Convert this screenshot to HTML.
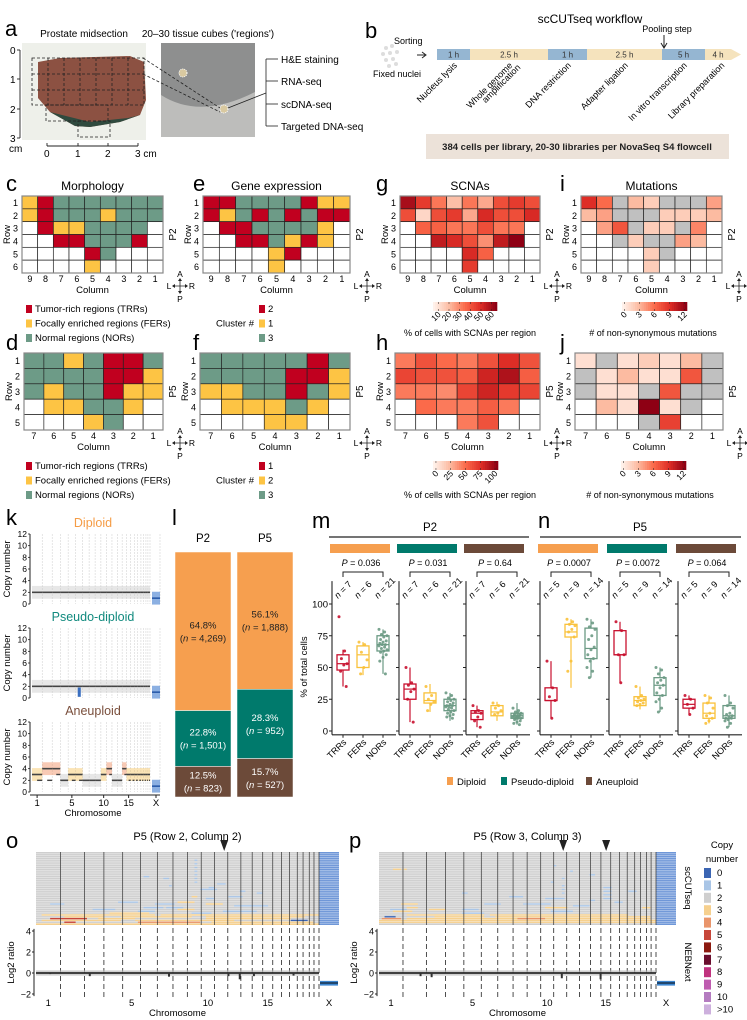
<!DOCTYPE html>
<html><head><meta charset="utf-8">
<style>
html,body{margin:0;padding:0;background:#fff;}
svg{display:block;font-family:"Liberation Sans",Arial,sans-serif;}
</style></head>
<body>
<svg id="fig" width="747" height="1020" viewBox="0 0 747 1020" xmlns="http://www.w3.org/2000/svg">
<!-- Panel a -->
<g>
<text x="5" y="36" font-size="22">a</text>
<text x="84" y="37" font-size="10" text-anchor="middle">Prostate midsection</text>
<text x="208" y="37" font-size="10" text-anchor="middle">20–30 tissue cubes ('regions')</text>
<rect x="22" y="43" width="124" height="97" fill="#eef0ea"/>
<path d="M38,62 L60,58 L130,56 L144,62 L146,100 L140,115 L120,122 L90,127 L75,126 L50,112 L38,98 Z" fill="#8c5142"/>
<path d="M50,112 L75,126 L90,127 L120,122 L140,115 L128,118 L90,122 Z" fill="#2f4a3e"/>
<g stroke="#222" stroke-dasharray="3,2" fill="none" stroke-width="0.8">
<rect x="32" y="58" width="112" height="47"/><line x1="32" y1="74" x2="144" y2="74"/><line x1="32" y1="90" x2="144" y2="90"/>
<line x1="48" y1="58" x2="48" y2="105"/><line x1="64" y1="58" x2="64" y2="105"/><line x1="80" y1="58" x2="80" y2="105"/><line x1="96" y1="58" x2="96" y2="105"/><line x1="112" y1="58" x2="112" y2="105"/><line x1="128" y1="58" x2="128" y2="105"/>
<rect x="46" y="105" width="62" height="16"/><rect x="78" y="121" width="32" height="16"/>
</g>
<g stroke="#222" stroke-width="0.9">
<line x1="20" y1="50" x2="20" y2="138"/><line x1="17" y1="50" x2="20" y2="50"/><line x1="17" y1="79" x2="20" y2="79"/><line x1="17" y1="109" x2="20" y2="109"/><line x1="17" y1="138" x2="20" y2="138"/>
<line x1="47" y1="146" x2="138" y2="146"/><line x1="47" y1="146" x2="47" y2="143"/><line x1="78" y1="146" x2="78" y2="143"/><line x1="108" y1="146" x2="108" y2="143"/><line x1="138" y1="146" x2="138" y2="143"/>
</g>
<g font-size="10">
<text x="10" y="54">0</text><text x="10" y="83">1</text><text x="10" y="113">2</text><text x="10" y="142">3</text><text x="9" y="152">cm</text>
<text x="44" y="157">0</text><text x="75" y="157">1</text><text x="105" y="157">2</text><text x="135" y="157">3 cm</text>
</g>
<rect x="161" y="43" width="94" height="94" fill="#8e8f8f"/>
<path d="M161,95 Q200,120 255,92 L255,137 L161,137 Z" fill="#bdbdbb"/>
<circle cx="183" cy="73" r="4" fill="#d9c9a0" stroke="#fff" stroke-dasharray="1,1"/>
<circle cx="224" cy="109" r="4" fill="#d9c9a0" stroke="#fff" stroke-dasharray="1,1"/>
<g stroke="#222" stroke-width="0.8" fill="none">
<line x1="143" y1="58" x2="220" y2="108" stroke-dasharray="3,2"/><line x1="143" y1="74" x2="220" y2="112" stroke-dasharray="3,2"/>
<line x1="228" y1="108" x2="266" y2="93"/>
<line x1="266" y1="59" x2="266" y2="126"/>
<line x1="266" y1="59" x2="278" y2="59"/><line x1="266" y1="81" x2="278" y2="81"/><line x1="266" y1="104" x2="278" y2="104"/><line x1="266" y1="126" x2="278" y2="126"/>
</g>
<g font-size="10">
<text x="281" y="63">H&amp;E staining</text><text x="281" y="85">RNA-seq</text><text x="281" y="108">scDNA-seq</text><text x="281" y="130">Targeted DNA-seq</text>
</g>
</g>
<!-- Panel b -->
<g>
<text x="365" y="38" font-size="22">b</text>
<text x="590" y="23" font-size="12" text-anchor="middle">scCUTseq workflow</text>
<text x="394" y="44" font-size="9">Sorting</text>
<text x="397" y="77" font-size="9" text-anchor="middle">Fixed nuclei</text>
<g fill="#ddd">
<circle cx="386" cy="48" r="2"/><circle cx="392" cy="46" r="2"/><circle cx="383" cy="54" r="2"/><circle cx="390" cy="53" r="2"/><circle cx="397" cy="52" r="2"/><circle cx="386" cy="60" r="2"/><circle cx="393" cy="59" r="2"/><circle cx="389" cy="66" r="2"/><circle cx="396" cy="64" r="2"/>
</g>
<path d="M417,55 L425,55 M422,52 L426,55 L422,58" stroke="#222" fill="none"/>
<text x="667" y="32" font-size="9" text-anchor="middle">Pooling step</text>
<path d="M664,35 L664,47 M661,43 L664,48 L667,43" stroke="#222" fill="none"/>
<g id="wf"></g>
<rect x="426" y="134" width="303" height="25" fill="#ece2d9"/>
<text x="577" y="150" font-size="9.5" font-weight="bold" text-anchor="middle" fill="#222">384 cells per library, 20-30 libraries per NovaSeq S4 flowcell</text>
</g>
<g id="root"></g>
</svg>
<script>
const NS='http://www.w3.org/2000/svg';
const root=document.getElementById('root');
function mk(tag,a,p){const e=document.createElementNS(NS,tag);for(const k in a)e.setAttribute(k,a[k]);(p||root).appendChild(e);return e;}
function tx(s,x,y,a,p){const e=mk('text',Object.assign({x:x,y:y},a||{}),p);e.textContent=s;return e;}

/* ---------- workflow ---------- */
const wfDur=['1 h','2.5 h','1 h','2.5 h','5 h','4 h'];
const wfX=[437,470,548,587,662,705,737];
const wfSteps=[['Nucleus lysis'],['Whole genome','amplification'],['DNA restriction'],['Adapter ligation'],['In vitro transcription'],['Library preparation']];
const wf=document.getElementById('wf');
wfDur.forEach((d,i)=>{
  const x0=wfX[i],x1=wfX[i+1],col=i%2?'#f5e3bd':'#95b6d2';
  let s;
  if(i===5){s=mk('path',{d:`M${x0},49 L${x1-6},49 L${x1+4},54.5 L${x1-6},60 L${x0},60 Z`,fill:col},wf);}
  else{s=mk('rect',{x:x0,y:49,width:x1-x0,height:11,fill:col},wf);}
  
  
  tx(d,(x0+x1)/2-(i===5?3:0),57.5,{'font-size':8,'text-anchor':'middle',fill:'#333'},wf);
  const cx=(x0+x1)/2+4;
  wfSteps[i].forEach((ln,j)=>{
    const t=tx(ln,cx+j*8,66+j*2,{'font-size':9,'text-anchor':'end',transform:`rotate(-45 ${cx+j*8} ${66+j*2})`},wf);
    
    
  });
});

/* ---------- spatial grids data ---------- */
const morphP2=["YRGGGGGGG","YRGGGYGGG","WRYYGGGGW","WWRRGGGRW","WWWWRGWWW","WWWWYWWWW"];
const exprP2=["RRGGGGRYY","RYGRGRGRR","WRRGGGGYW","WWRRGYRYW","WWWWYRWWW","WWWWYWWWW"];
const morphP5=["GGYGRRG","GGGGRRY","GYGGRYY","WYYGGYW","WWWYGWW"];
const exprP5=["GGGGGRG","GGGGRRY","YYGGRGY","WYYYGYW","WWWYYWW"];
const scnaP2=[[60,45,30,15,30,20,40,45,40],[40,8,40,45,20,50,40,40,50],[null,35,35,30,30,40,30,30,null],[null,null,55,50,40,25,55,65,null],[null,null,null,null,50,35,null,null,null],[null,null,null,null,45,null,null,null,null]];
const mutP2=[[9,6,-1,3,2,-1,-1,-1,4],[3,4,-1,-1,-1,2,2,2,3],[null,4,7,-1,2,2,-1,5,null],[null,null,-1,2,-1,-1,4,3,null],[null,null,null,null,2,-1,null,null,null],[null,null,null,null,2,null,null,null,null]];
const scnaP5=[[45,60,50,45,60,75,60],[65,60,60,55,80,90,55],[45,45,40,65,80,70,65],[null,50,45,45,55,45,null],[null,null,null,45,60,null,null]];
const mutP5=[[1,-1,1,2,1,3,-1],[-1,1,3,1,1,7,-1],[-1,1,1,-1,7,-1,-1],[null,3,1,12,1,-1,null],[null,null,null,-1,8,null,null]];
const catCol={R:'#c1001f',Y:'#fdc444',G:'#6d9b87',W:'#ffffff'};
const rampStops=['#fff1ea','#fcbba1','#fb6a4a','#de2d26','#8e0014'];
function ramp(t){t=Math.max(0,Math.min(1,t));const n=rampStops.length-1,i=Math.min(n-1,Math.floor(t*n)),f=t*n-i;
 const a=rampStops[i],b=rampStops[i+1];const c=k=>Math.round(parseInt(a.substr(k,2),16)*(1-f)+parseInt(b.substr(k,2),16)*f);
 return `rgb(${c(1)},${c(3)},${c(5)})`;}

function gridFrame(g,x0,y0,w,h,nr,nc,title,pat){
  const cw=w/nc,ch=h/nr;
  for(let r=0;r<nr;r++)tx(String(r+1),x0-4,y0+ch*(r+0.5)+3.5,{'font-size':9,'text-anchor':'end'},g);
  for(let c=0;c<nc;c++)tx(String(nc-c),x0+cw*(c+0.5),y0+h+9,{'font-size':9,'text-anchor':'middle'},g);
  tx('Column',x0+w/2,y0+h+20,{'font-size':9.5,'text-anchor':'middle'},g);
  tx('Row',x0-12,y0+h/2,{'font-size':9.5,'text-anchor':'middle',transform:`rotate(-90 ${x0-12} ${y0+h/2})`},g);
  tx(pat,x0+w+13,y0+h/2,{'font-size':10,'text-anchor':'middle',transform:`rotate(-90 ${x0+w+13} ${y0+h/2})`},g);
  mk('rect',{x:x0,y:y0,width:w,height:h,fill:'none',stroke:'#888','stroke-width':1.2},g);
  if(title)tx(title,x0+w/2,y0-6,{'font-size':12,'text-anchor':'middle'},g);
}
function compass(g,cx,cy){
  mk('path',{d:`M${cx-7},${cy} L${cx+7},${cy} M${cx},${cy-7} L${cx},${cy+7}`,stroke:'#222','stroke-width':0.8},g);
  mk('path',{d:`M${cx-8},${cy} l3,-2 l0,4z M${cx+8},${cy} l-3,-2 l0,4z M${cx},${cy-8} l-2,3 l4,0z M${cx},${cy+8} l-2,-3 l4,0z`,fill:'#222'},g);
  tx('A',cx,cy-9,{'font-size':8.5,'text-anchor':'middle'},g);
  tx('P',cx,cy+16,{'font-size':8.5,'text-anchor':'middle'},g);
  tx('L',cx-11,cy+3,{'font-size':8.5,'text-anchor':'middle'},g);
  tx('R',cx+12,cy+3,{'font-size':8.5,'text-anchor':'middle'},g);
}
function catGrid(name,rows,x0,y0,w,h,title,pat){
  const g=mk('g',{});
  
  
  const nr=rows.length,nc=rows[0].length,cw=w/nc,ch=h/nr;
  rows.forEach((row,r)=>row.split('').forEach((v,c)=>{
    const cell=mk('rect',{x:x0+c*cw,y:y0+r*ch,width:cw,height:ch,fill:catCol[v],stroke:'#222','stroke-width':0.7},g);
    
    
  }));
  gridFrame(g,x0,y0,w,h,nr,nc,title,pat);
  compass(g,x0+w+17,y0+h+13);
  return g;
}
function contGrid(name,rows,vmax,x0,y0,w,h,title,pat){
  const g=mk('g',{});
  
  
  const nr=rows.length,nc=rows[0].length,cw=w/nc,ch=h/nr;
  rows.forEach((row,r)=>row.forEach((v,c)=>{
    const f=v===null?'#fff':(v<0?'#c0c0c0':ramp(v/vmax));
    const cell=mk('rect',{x:x0+c*cw,y:y0+r*ch,width:cw,height:ch,fill:f,stroke:'#222','stroke-width':0.7},g);
    
    
  }));
  gridFrame(g,x0,y0,w,h,nr,nc,title,pat);
  compass(g,x0+w+17,y0+h+13);
  return g;
}
function colorbar(name,x0,y0,w,ticks,tmin,tmax,caption,capX,capY){
  const g=mk('g',{});
  
  
  const n=30;for(let i=0;i<n;i++)mk('rect',{x:x0+w*i/n,y:y0,width:w/n+0.3,height:9,fill:ramp(i/(n-1))},g);
  ticks.forEach(t=>{const x=x0+w*(t-tmin)/(tmax-tmin);
    mk('line',{x1:x,y1:y0,x2:x,y2:y0+2,stroke:'#222','stroke-width':0.5},g);
    mk('line',{x1:x,y1:y0+7,x2:x,y2:y0+9,stroke:'#222','stroke-width':0.5},g);
    tx(String(t),x+3,y0+13,{'font-size':8.5,'text-anchor':'end',transform:`rotate(-45 ${x+3} ${y0+13})`},g);});
  tx(caption,capX,capY,{'font-size':9,'text-anchor':'middle'},g);
}
function catLegend(name,x,y,items,head){
  const g=mk('g',{});
  
  
  items.forEach((it,i)=>{mk('rect',{x:x,y:y+i*14.5-7,width:6,height:8,fill:catCol[it[0]]},g);tx(it[1],x+9,y+i*14.5,{'font-size':9.5},g);});
  if(head)tx(head,x-5,y+14.5,{'font-size':9.5,'text-anchor':'end'},g);
}
tx('c',6,191,{'font-size':22});tx('e',193,191,{'font-size':22});tx('g',376,191,{'font-size':22});tx('i',560,191,{'font-size':22});
tx('d',6,350,{'font-size':22});tx('f',193,350,{'font-size':22});tx('h',376,350,{'font-size':22});tx('j',560,350,{'font-size':22});
catGrid('morphology-grid-p2',morphP2,22,196,141,77,'Morphology','P2');
catGrid('expression-grid-p2',exprP2,203,196,147,77,'Gene expression','P2');
contGrid('scna-grid-p2',scnaP2,65,400,196,140,77,'SCNAs','P2');
contGrid('mutation-grid-p2',mutP2,12,581,196,141,77,'Mutations','P2');
catGrid('morphology-grid-p5',morphP5,24,353,139,77,null,'P5');
catGrid('expression-grid-p5',exprP5,200,353,150,77,null,'P5');
contGrid('scna-grid-p5',scnaP5,100,395,353,145,77,null,'P5');
contGrid('mutation-grid-p5',mutP5,12,575,353,148,77,null,'P5');
const regLegend=[['R','Tumor-rich regions (TRRs)'],['Y','Focally enriched regions (FERs)'],['G','Normal regions (NORs)']];
catLegend('region-legend-p2',26,312,regLegend);
catLegend('cluster-legend-p2',259,312,[['R','2'],['Y','1'],['G','3']],'Cluster #');
catLegend('region-legend-p5',26,469,regLegend);
catLegend('cluster-legend-p5',259,469,[['R','1'],['Y','2'],['G','3']],'Cluster #');
colorbar('scna-colorbar-p2',433,302,64,[10,20,30,40,50,60],5,65,'% of cells with SCNAs per region',470,336);
colorbar('mutation-colorbar-p2',622,302,65,[0,3,6,9,12],-0.5,12.5,'# of non-synonymous mutations',653,336);
colorbar('scna-colorbar-p5',433,461,65,[0,25,50,75,100],-5,105,'% of cells with SCNAs per region',470,498);
colorbar('mutation-colorbar-p5',621,461,65,[0,3,6,9,12],-0.5,12.5,'# of non-synonymous mutations',650,498);

/* ---------- k: copy number profiles ---------- */
const chromLen=[249,243,198,191,181,171,159,146,141,135,135,133,115,107,102,90,81,78,59,63,48,51];
const chromTickLabels=['1','5','10','15','X'];
const chromTickIdx=[0,4,9,14,22];
const dipCN=[2,2,2,2,2,2,2,2,2,2,2,2,2,2,2,2,2,2,2,2,2,2,1];
const pseudoCN=[2,2,2,2,2,2,2,2,2,2,2,2,2,2,2,2,2,2,2,2,2,2,1];
const pseudoDip=[[5,0.45,0.6,1]];
const aneCN=[3,4,4,2,3,3,2,2,2,3,4,2,2,4,3,3,3,3,3,3,3,3,1];
const aneAlt=[2,2,3,2,2,2,2,2,2,3,3,2,2,3,2,2,2,2,2,2,2,2,1];
const totLen=chromLen.reduce((a,b)=>a+b,0);
function kPlot(name,title,col,y0,cns,alt,dips){
  const g=mk('g',{});
  
  
  const x0=32,x1=150,xX0=152,xX1=160,h=70;
  const ys=v=>y0+h-v/12*h;
  const xs=c=>{let s=0;for(let i=0;i<c;i++)s+=chromLen[i];return x0+(x1-x0)*s/totLen;};
  tx(title,93,y0-7,{'font-size':12.5,'text-anchor':'middle',fill:col},g);
  for(let c=1;c<=22;c++){const x=c===22?x1:xs(c);mk('line',{x1:x,y1:y0,x2:x,y2:y0+h,stroke:'#ccc','stroke-width':0.5,'stroke-dasharray':'2,1'},g);}
  mk('line',{x1:xX1,y1:y0,x2:xX1,y2:y0+h,stroke:'#ccc','stroke-width':0.5,'stroke-dasharray':'2,1'},g);
  cns.forEach((v,c)=>{
    const a=c<22?xs(c):xX0,b=c<22?(c===21?x1:xs(c+1)):xX1;
    const fc=c===22?'#5b8fd6':(v>2?(v>3?'#ef8a5a':'#f6c35e'):'#c9c9c9');
    mk('rect',{x:a,y:ys(v+1.1),width:b-a,height:ys(v-1.1)-ys(v+1.1),fill:fc,opacity:c===22?0.7:0.45},g);
    const seg=mk('line',{x1:a,y1:ys(v),x2:b,y2:ys(v),stroke:c===22?'#2a5caa':'#444','stroke-width':1.6},g);
    
    
    if(alt&&alt[c]!==v){const m=(a+b)/2;mk('line',{x1:m,y1:ys(alt[c]),x2:b,y2:ys(alt[c]),stroke:'#444','stroke-width':1.4},g);}
  });
  (dips||[]).forEach(d=>{const a=xs(d[0]),b=xs(d[0]+1),w=b-a;mk('rect',{x:a+w*d[1]-1,y:ys(d[3]+0.8),width:w*(d[2]-d[1])+2,height:ys(d[3]-0.8)-ys(d[3]+0.8),fill:'#3a6fc0'},g);});
  mk('path',{d:`M${x0-2},${y0} L${x0-2},${y0+h}`,stroke:'#222','stroke-width':1},g);
  [0,2,4,6,8,10,12].forEach(t=>{mk('line',{x1:x0-4,y1:ys(t),x2:x0-2,y2:ys(t),stroke:'#222','stroke-width':0.8},g);tx(String(t),x0-5,ys(t)+3,{'font-size':8.5,'text-anchor':'end'},g);});
  tx('Copy number',10,y0+h/2,{'font-size':9.5,'text-anchor':'middle',transform:`rotate(-90 10 ${y0+h/2})`},g);
  return {xs:xs,x1:x1,y:y0+h};
}
tx('k',6,525,{'font-size':22});
kPlot('diploid-profile','Diploid','#f59c45',534,dipCN,null,null);
kPlot('pseudodiploid-profile','Pseudo-diploid','#118a7e',628,pseudoCN,null,pseudoDip);
const kp=kPlot('aneuploid-profile','Aneuploid','#7a4f3c',722,aneCN,aneAlt,null);
mk('line',{x1:30,y1:795,x2:160,y2:795,stroke:'#222','stroke-width':1});
chromTickIdx.forEach((c,i)=>{const x=c===22?156:(kp.xs(c)+kp.xs(c+1))/2;mk('line',{x1:x,y1:795,x2:x,y2:798,stroke:'#222'});tx(chromTickLabels[i],x,806,{'font-size':9.5,'text-anchor':'middle'});});
tx('Chromosome',93,816,{'font-size':9.5,'text-anchor':'middle'});

/* ---------- l: stacked bars ---------- */
const lGroups=['P2','P5'];
const lPct=[[64.8,22.8,12.5],[56.1,28.3,15.7]];
const lN=[['4,269','1,501','823'],['1,888','952','527']];
const ploidyCol=['#f69f4f','#007a6c','#6c4a39'];
const lX=[175,237],lW=56,lTop=552,lBot=797;
tx('l',172,525,{'font-size':22});
lGroups.forEach((gname,gi)=>{
  const tot=lPct[gi].reduce((a,b)=>a+b,0);let y=lTop;
  tx(gname,lX[gi]+lW/2,542,{'font-size':11.5,'text-anchor':'middle'});
  lPct[gi].forEach((p,k)=>{
    const h=(lBot-lTop)*p/tot;
    const r=mk('rect',{x:lX[gi],y:y,width:lW,height:h,fill:ploidyCol[k],stroke:'#fff','stroke-width':0.5});
    
    
    const c=k===0?'#222':'#fff',cy=y+h/2;
    tx(p.toFixed(1)+'%',lX[gi]+lW/2,cy-3,{'font-size':9.5,'text-anchor':'middle',fill:c});
    const t=mk('text',{x:lX[gi]+lW/2,y:cy+10,'font-size':9.5,'text-anchor':'middle',fill:c});
    t.innerHTML='(<tspan font-style="italic">n</tspan> = '+lN[gi][k]+')';
    y+=h;
  });
});

/* ---------- m/n: boxplots ---------- */
const bpCats=['TRRs','FERs','NORs'];
const bpQ1=[[48,50,63],[25,22,16],[9,12,10],[24,74,57],[60,20,28],[18,10,10]];
const bpMed=[[53,60,68],[33,24,20],[14,15,12],[24,78,65],[60,24,36],[21,14,12]];
const bpQ3=[[60,67,75],[37,30,25],[16,20,14],[34,84,81],[79,27,42],[25,22,20]];
const bpLo=[[35,44,45],[7,15,8],[3,8,5],[10,34,42],[38,17,15],[13,6,3]];
const bpHi=[[64,70,80],[50,37,30],[20,23,22],[55,88,88],[86,35,50],[28,28,28]];
const bpPts=[
 [[90,63,57,53,52,47,35],[70,68,62,56,50,45],[80,78,76,75,74,72,71,70,69,68,68,67,66,65,64,63,62,60,58,55,45]],
 [[50,38,36,33,31,25,7],[35,28,25,23,21,16],[30,28,26,25,24,23,22,21,20,20,19,19,18,17,16,15,14,13,12,11,10]],
 [[20,16,15,14,11,8,3],[22,20,18,16,14,13],[18,16,15,14,14,13,13,12,12,12,11,11,11,10,10,10,9,8,7,6,5]],
 [[55,34,27,24,10],[88,86,84,83,80,78,74,55,47],[88,85,82,80,75,72,66,64,60,57,55,50,47,42]],
 [[86,79,60,60,38],[35,28,26,25,24,23,22,21,20],[50,48,45,42,40,38,36,34,30,28,25,23,18,15]],
 [[28,25,21,18,13],[28,26,22,18,14,12,10,8,6],[28,22,20,18,14,13,12,11,10,10,9,8,6,3]]];
const bpP=['0.036','0.031','0.64','0.0007','0.0072','0.064'];
const bpYTicks=[0,25,50,75,100];
const catColBp=['#c8102e','#f9c13a','#6b9a84'];
const axX=[332,399,466,540,609,678];
const yb=v=>731-v*1.27;
tx('m',312,528,{'font-size':22});tx('n',538,528,{'font-size':22});
mk('line',{x1:329,y1:537,x2:529,y2:537,stroke:'#222','stroke-width':1.2});
mk('line',{x1:540,y1:537,x2:741,y2:537,stroke:'#222','stroke-width':1.2});
tx('P2',430,531,{'font-size':11.5,'text-anchor':'middle'});tx('P5',640,531,{'font-size':11.5,'text-anchor':'middle'});
tx('% of total cells',307,667,{'font-size':9.5,'text-anchor':'middle',transform:'rotate(-90 307 667)'});
axX.forEach((ax,pi)=>{
  const g=mk('g',{});
  
  
  const strip=mk('rect',{x:ax-2,y:544,width:60,height:9,fill:ploidyCol[pi%3]},g);
  
  
  const pt=mk('text',{x:ax+29,y:566,'font-size':9,'text-anchor':'middle'},g);
  pt.innerHTML='<tspan font-style="italic">P</tspan> = '+bpP[pi];
  const cx=k=>ax+11+k*20;
  mk('path',{d:`M${cx(0)},577 L${cx(0)},572 L${cx(2)},572 L${cx(2)},577`,stroke:'#222',fill:'none','stroke-width':1},g);
  mk('line',{x1:ax,y1:yb(-3),x2:ax,y2:yb(118),stroke:'#222','stroke-width':1.1},g);
  mk('line',{x1:ax,y1:yb(-3),x2:ax+64,y2:yb(-3),stroke:'#222','stroke-width':1.1},g);
  bpYTicks.forEach(t=>{mk('line',{x1:ax-3,y1:yb(t),x2:ax,y2:yb(t),stroke:'#222'},g);if(pi===0)tx(String(t),ax-4,yb(t)+3.5,{'font-size':9.5,'text-anchor':'end'},g);});
  bpCats.forEach((c,k)=>{
    const x=cx(k),col=catColBp[k];
    mk('line',{x1:x,y1:yb(bpLo[pi][k]),x2:x,y2:yb(bpHi[pi][k]),stroke:col,'stroke-width':1.2},g);
    const box=mk('rect',{x:x-6,y:yb(bpQ3[pi][k]),width:12,height:yb(bpQ1[pi][k])-yb(bpQ3[pi][k]),fill:'#fff',stroke:col,'stroke-width':1.3},g);
    
    
    mk('line',{x1:x-6,y1:yb(bpMed[pi][k]),x2:x+6,y2:yb(bpMed[pi][k]),stroke:col,'stroke-width':1.2},g);
    bpPts[pi][k].forEach((v,i)=>{
      const d=mk('circle',{cx:x+((i*7)%11-5)*0.8,cy:yb(v),r:1.5,fill:col,opacity:0.9},g);
      
      
    });
    mk('line',{x1:x,y1:yb(-3),x2:x,y2:yb(-3)+3,stroke:'#222'},g);
    const lx=x+4,ly=yb(-3)+8;
    tx(c,lx,ly,{'font-size':9,'text-anchor':'end',transform:`rotate(-45 ${lx} ${ly})`},g);
    const nx=x-5,ny=599;
    const nt=mk('text',{x:nx,y:ny,'font-size':9,transform:`rotate(-45 ${nx} ${ny})`},g);
    nt.innerHTML='<tspan font-style="italic">n</tspan> = '+bpPts[pi][k].length;
  });
});
const plg=mk('g',{});


[['Diploid',447],['Pseudo-diploid',501],['Aneuploid',586]].forEach((it,i)=>{mk('rect',{x:it[1],y:777,width:6,height:8,fill:ploidyCol[i]},plg);tx(it[0],it[1]+10,785,{'font-size':9.5},plg);});

/* ---------- o/p: genome heatmaps ---------- */
const cnCols=['#3b65b3','#a9c5e6','#cfcfcf','#f6d08e','#e9956b','#c7463a','#8c1a10','#6a0e2e','#c0327e','#bf5cb0','#b47cc0','#cdb0dd'];
const cnLabels=['0','1','2','3','4','5','6','7','8','9','10','>10'];
const nRows=40;
// segments: [row, startFrac, endFrac, copyNumber]
const segO=[[4,0.56,0.57,1],[6,0.56,0.57,1],[8,0.56,0.57,1],[10,0.56,0.57,1],[12,0.56,0.57,1],[14,0.56,0.57,1],[16,0.56,0.57,1],[13,0.38,0.4,1],[14,0.45,0.47,1],[18,0.47,0.48,1],[17,0.64,0.67,1],[19,0.61,0.63,1],[20,0.58,0.64,1],[21,0.72,0.74,1],[22,0.78,0.8,1],[24,0.68,0.73,1],[24,0.55,0.57,3],[25,0.6,0.63,1],[27,0.29,0.36,1],[27,0.5,0.56,3],[28,0.05,0.1,1],[28,0.42,0.49,1],[28,0.6,0.66,3],[29,0.7,0.82,1],[30,0.38,0.45,1],[30,0.46,0.52,1],[31,0.5,0.56,3],[31,0.2,0.28,1],[32,0.36,0.42,1],[32,0.66,0.78,1],[33,0.26,0.4,3],[33,0.55,0.62,1],[34,0.02,0.42,3],[34,0.44,1,3],[35,0.1,0.24,3],[35,0.3,0.55,3],[35,0.6,0.95,3],[36,0.05,0.18,5],[36,0.22,0.35,3],[36,0.6,0.9,3],[37,0.02,0.3,3],[37,0.35,0.7,3],[37,0.9,0.96,0],[38,0.1,0.14,5],[38,0.36,0.58,4],[38,0.62,0.98,3],[39,0,1,3]];
const segP=[[14,0.66,0.67,1],[16,0.62,0.63,1],[12,0.76,0.78,1],[18,0.66,0.67,1],[20,0.66,0.67,1],[22,0.66,0.67,1],[19,0.81,0.84,1],[21,0.81,0.84,1],[23,0.81,0.84,1],[25,0.81,0.84,1],[21,0.9,0.93,1],[22,0.3,0.32,1],[24,0.47,0.52,1],[25,0.6,0.67,1],[26,0.76,0.78,1],[27,0.85,0.88,1],[28,0.08,0.14,3],[28,0.38,0.44,1],[28,0.52,0.62,1],[29,0.7,0.76,1],[30,0.1,0.14,3],[30,0.6,0.68,3],[30,0.95,0.98,3],[31,0.18,0.24,3],[31,0.04,0.1,1],[31,0.3,0.36,1],[32,0.62,0.7,1],[32,0.05,0.12,3],[33,0.3,0.38,1],[34,0.1,0.38,3],[34,0.4,0.9,3],[35,0.02,0.06,0],[35,0.2,0.38,3],[35,0.42,0.98,3],[36,0.01,0.08,4],[36,0.1,0.5,3],[36,0.5,0.6,4],[36,0.6,0.98,3],[37,0,1,3],[38,0,1,3]];
const segPtop=[[9,0.05,0.08,3],[9,0.09,0.1,3],[7,0.63,0.64,1],[10,0.69,0.7,1]];
const log2DipsO=[[0.05,-0.1],[0.19,-0.3],[0.47,-0.35],[0.68,-0.3],[0.72,-0.6],[0.77,-0.3],[0.91,-0.25]];
const log2DipsP=[[0.15,-0.3],[0.19,-0.4],[0.66,-0.5],[0.8,-0.6]];
function genomePanel(name,x0,x1,title,segs,arrows,dips,heatSide,lbl){
  const g=mk('g',{});
  
  
  const xX=x1-20,W=xX-x0,hy0=852,hy1=925,rh=(hy1-hy0)/nRows;
  const fx=f=>x0+W*f;
  tx(lbl,x0-30,848,{'font-size':22},g);
  tx(title,(x0+x1)/2,840,{'font-size':11,'text-anchor':'middle'},g);
  mk('rect',{x:x0,y:hy0,width:xX-x0,height:hy1-hy0,fill:cnCols[2]},g);
  mk('rect',{x:xX,y:hy0,width:x1-xX,height:hy1-hy0,fill:'#6f97d8'},g);
  segs.forEach(s=>{
    const r=mk('rect',{x:fx(s[1]),y:hy0+s[0]*rh,width:Math.max(1,W*(s[2]-s[1])),height:rh,fill:cnCols[s[3]]},g);
    
    
  });
  for(let r=1;r<nRows;r++)mk('line',{x1:x0,y1:hy0+r*rh,x2:x1,y2:hy0+r*rh,stroke:'#fff','stroke-width':0.35},g);
  let cum=0;const bnd=[];
  chromLen.forEach(l=>{cum+=l;bnd.push(cum/totLen);});
  bnd.slice(0,21).forEach(b=>mk('line',{x1:fx(b),y1:hy0,x2:fx(b),y2:hy1,stroke:'#333','stroke-width':0.7},g));
  mk('line',{x1:xX,y1:hy0,x2:xX,y2:hy1,stroke:'#333','stroke-width':0.7},g);
  arrows.forEach(a=>mk('path',{d:`M${fx(a)-4},840 L${fx(a)+4},840 L${fx(a)},851 Z`,fill:'#222'},g));
  const ly=v=>973-v*10.5;
  bnd.slice(0,21).forEach(b=>mk('line',{x1:fx(b),y1:928,x2:fx(b),y2:998,stroke:'#222','stroke-width':0.8,'stroke-dasharray':'5,3'},g));
  mk('line',{x1:xX,y1:928,x2:xX,y2:998,stroke:'#222','stroke-width':0.8,'stroke-dasharray':'5,3'},g);
  mk('rect',{x:x0,y:ly(0.25),width:W,height:ly(-0.25)-ly(0.25),fill:'#bbb',opacity:0.7},g);
  mk('line',{x1:x0,y1:ly(0),x2:xX,y2:ly(0),stroke:'#111','stroke-width':1.4},g);
  dips.forEach(d=>mk('rect',{x:fx(d[0])-1,y:ly(0),width:2,height:ly(d[1])-ly(0),fill:'#333'},g));
  mk('rect',{x:xX+1,y:ly(-0.75),width:x1-xX-2,height:ly(-1.2)-ly(-0.75),fill:'#3d86d0'},g);
  mk('line',{x1:xX+1,y1:ly(-0.95),x2:x1-1,y2:ly(-0.95),stroke:'#123','stroke-width':1.2},g);
  mk('line',{x1:x0-2,y1:ly(4.2),x2:x0-2,y2:ly(-2.2),stroke:'#222','stroke-width':1},g);
  [4,2,0,-2].forEach(t=>{mk('line',{x1:x0-4,y1:ly(t),x2:x0-2,y2:ly(t),stroke:'#222'},g);tx(t<0?'−2':String(t),x0-5,ly(t)+3.5,{'font-size':9,'text-anchor':'end'},g);});
  tx('Log2 ratio',x0-22,ly(1),{'font-size':9.5,'text-anchor':'middle',transform:`rotate(-90 ${x0-22} ${ly(1)})`},g);
  chromTickIdx.forEach((c,i)=>{const f=c===22?null:((c?bnd[c-1]:0)+bnd[c])/2;const x=f===null?(xX+x1)/2:fx(f);tx(chromTickLabels[i],x,1006,{'font-size':9.5,'text-anchor':'middle'},g);});
  tx('Chromosome',(x0+xX)/2,1016,{'font-size':9.5,'text-anchor':'middle'},g);
  if(heatSide){tx('scCUTseq',x1+9,888,{'font-size':9.5,'text-anchor':'middle',transform:`rotate(90 ${x1+9} 888)`},g);
    tx('NEBNext',x1+9,962,{'font-size':9.5,'text-anchor':'middle',transform:`rotate(90 ${x1+9} 962)`},g);}
}
genomePanel('genome-panel-o',36,339,'P5 (Row 2, Column 2)',segO,[0.665],log2DipsO,false,'o');
genomePanel('genome-panel-p',379,676,'P5 (Row 3, Column 3)',segP.concat(segPtop),[0.665,0.82],log2DipsP,true,'p');
const cl=mk('g',{});


tx('Copy',722,848,{'font-size':9.5,'text-anchor':'middle'},cl);tx('number',722,862,{'font-size':9.5,'text-anchor':'middle'},cl);
cnLabels.forEach((l,i)=>{const sw=mk('rect',{x:704,y:868+i*12.4,width:7,height:10,fill:cnCols[i]},cl);
  
  
  tx(l,717,876+i*12.4,{'font-size':9.5},cl);});
</script>
</body></html>
